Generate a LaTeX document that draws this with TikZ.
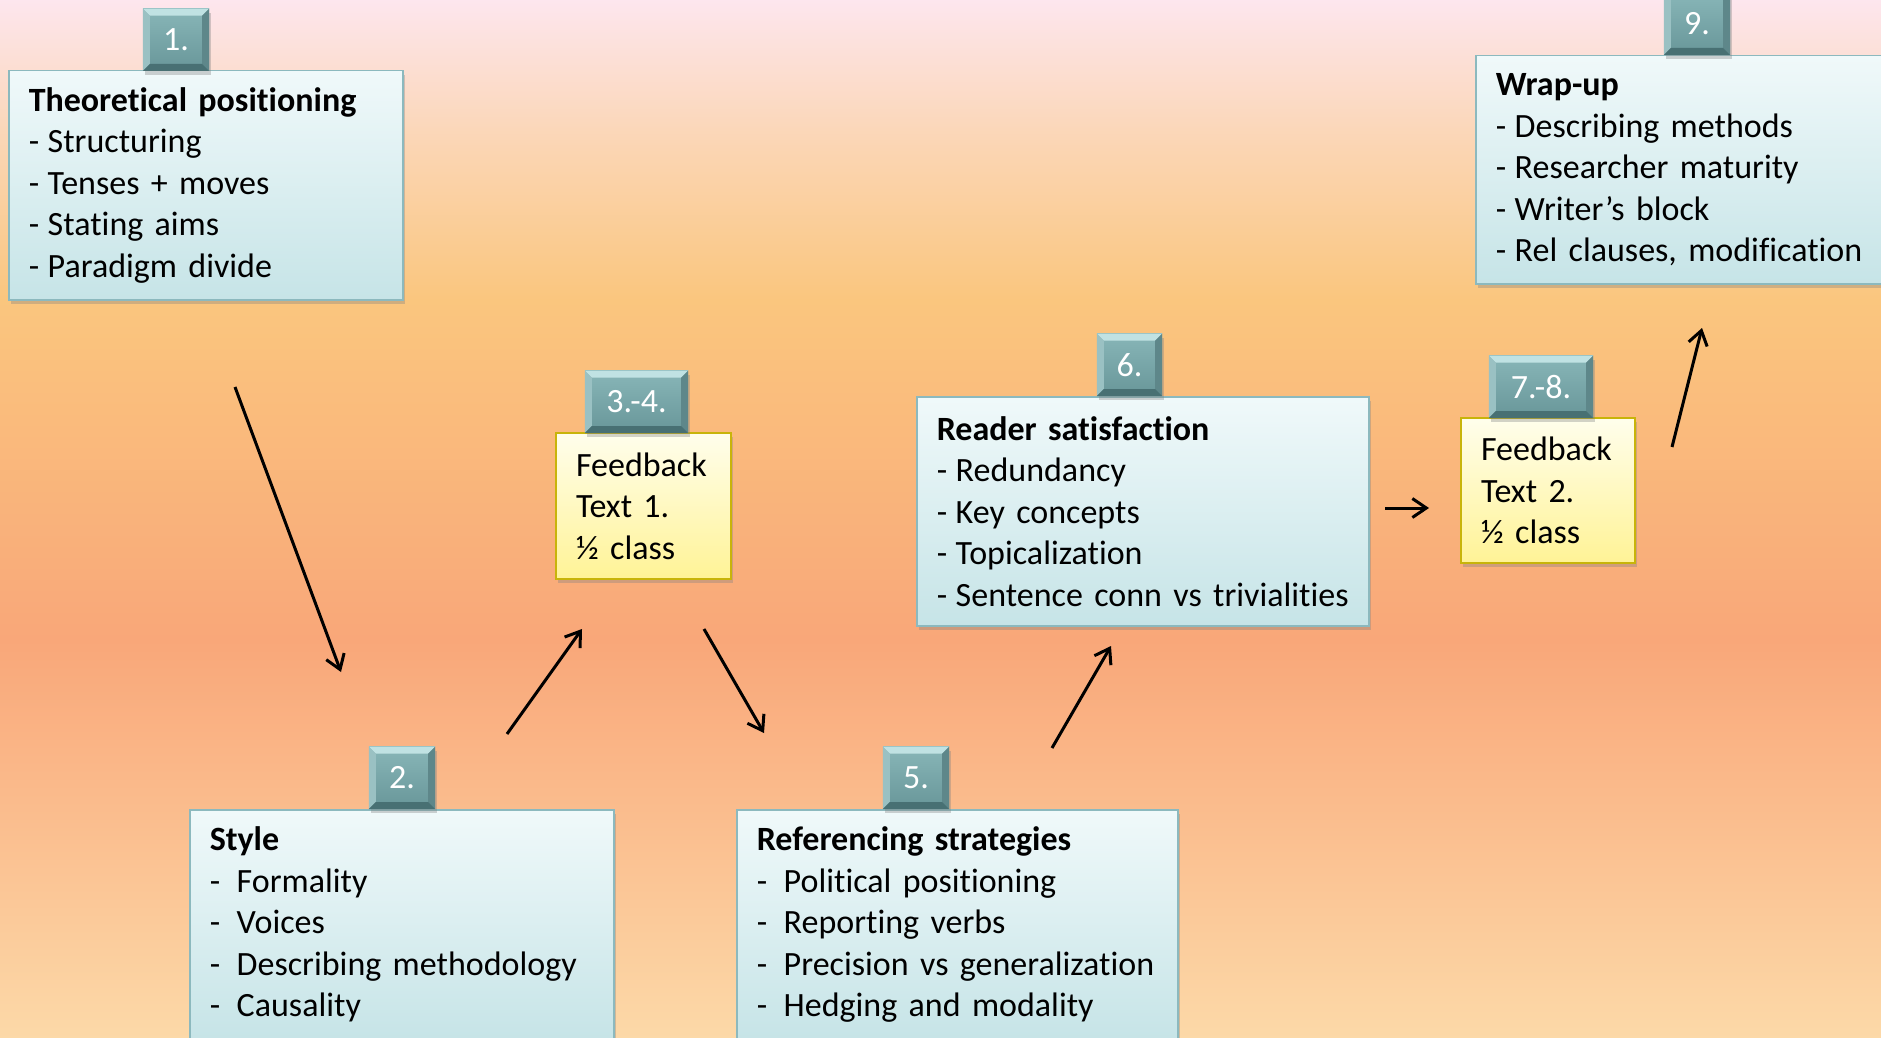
\documentclass[tikz,border=0pt]{standalone}
\usepackage{fontspec}
\setmainfont{Carlito}[Ligatures={NoCommon}]
\usetikzlibrary{arrows.meta,shadows,calc}

\definecolor{bgPink}{RGB}{253,230,238}
\definecolor{bgPeach}{RGB}{251,215,185}
\definecolor{bgOrange}{RGB}{250,198,126}
\definecolor{bgSalmon}{RGB}{249,167,121}
\definecolor{bgBottom}{RGB}{252,217,168}
\definecolor{boxTop}{RGB}{240,249,250}
\definecolor{boxBot}{RGB}{198,228,231}
\definecolor{boxLine}{RGB}{140,185,190}
\definecolor{ylTop}{RGB}{255,254,236}
\definecolor{ylBot}{RGB}{255,243,150}
\definecolor{ylLine}{RGB}{200,180,10}
\definecolor{tabTop}{RGB}{136,182,184}
\definecolor{tabBot}{RGB}{104,150,153}
\definecolor{tabHi}{RGB}{192,226,227}
\definecolor{tabDark}{RGB}{72,112,115}

\newcommand{\di}{\makebox[19pt][l]{-}}
\newcommand{\dii}{\makebox[27pt][l]{-}}

\tikzset{
  txt/.style={font=\fontsize{34}{41.5}\selectfont},
  shad/.style={drop shadow={shadow xshift=2pt, shadow yshift=-4pt, opacity=0.35}},
  topicbox/.style={draw=boxLine, line width=1.5pt, top color=boxTop, bottom color=boxBot,
    anchor=north west, align=left, inner xsep=20pt, inner ysep=0pt, txt, shad},
  fbbox/.style={draw=ylLine, line width=2pt, top color=ylTop, bottom color=ylBot,
    anchor=north west, align=left, inner xsep=20pt, inner ysep=0pt, txt, shad,
    text width=135pt, minimum height=146pt},
  tabbox/.style={anchor=south, minimum height=62pt, inner xsep=0pt, inner ysep=0pt,
    top color=tabTop, bottom color=tabBot, text=white, txt, shad},
  arr/.style={line width=3pt, -{Straight Barb[length=14pt,width=19pt]}},
}

\newcommand{\numtab}[5]{%
  \node[tabbox, minimum width=#4pt] (#1) at (#2,#3) {};
  \fill[tabHi] (#1.north west) -- (#1.north east) -- ($(#1.north east)+(-7,7)$) -- ($(#1.north west)+(7,7)$) -- cycle;
  \fill[tabTop!85!white] (#1.north west) -- ($(#1.north west)+(7,7)$) -- ($(#1.south west)+(7,-7)$) -- (#1.south west) -- cycle;
  \fill[tabBot!90!black] (#1.north east) -- ($(#1.north east)+(-7,7)$) -- ($(#1.south east)+(-7,-7)$) -- (#1.south east) -- cycle;
  \fill[tabDark] (#1.south west) -- (#1.south east) -- ($(#1.south east)+(-7,-7)$) -- ($(#1.south west)+(7,-7)$) -- cycle;
  \node[txt, text=white] (#1t) at (#1.center) {#5};
}

\begin{document}
\begin{tikzpicture}[x=1pt,y=-1pt]
\useasboundingbox (0,0) rectangle (1881,1038);
\clip (0,0) rectangle (1881,1038);

% background
\fill[top color=bgPink, bottom color=bgPeach] (0,-1) rectangle (1881,130);
\fill[top color=bgPeach, bottom color=bgOrange] (0,129) rectangle (1881,300);
\fill[top color=bgOrange, bottom color=bgSalmon] (0,299) rectangle (1881,640);
\fill[top color=bgSalmon, bottom color=bgBottom] (0,639) rectangle (1881,1039);

% topic boxes
\node[topicbox, text width=354pt, minimum height=229pt] (b1) at (8,70)
  {\textbf{Theoretical positioning}\\\di Structuring\\\di Tenses + moves\\\di Stating aims\\\di Paradigm divide};
\node[topicbox, text width=384pt, minimum height=230pt] (b2) at (189,809)
  {\textbf{Style}\\\dii Formality\\\dii Voices\\\dii Describing methodology\\\dii Causality};
\node[topicbox, text width=401pt, minimum height=230pt] (b5) at (736,809)
  {\textbf{Referencing strategies}\\\dii Political positioning\\\dii Reporting verbs\\\dii Precision vs generalization\\\dii Hedging and modality};
\node[topicbox, text width=412pt, minimum height=229pt] (b6) at (916,396)
  {\textbf{Reader satisfaction}\\\di Redundancy\\\di Key concepts\\\di Topicalization\\\di Sentence conn vs trivialities};
\node[topicbox, text width=400pt, minimum height=228pt] (b9) at (1475,55)
  {\textbf{Wrap-up}\\\di Describing methods\\\di Researcher maturity\\\di Writer’s block\\\di Rel clauses, modification};

% feedback boxes
\node[fbbox] (f34) at (555,432) {Feedback\\Text 1.\\½ class};
\node[fbbox, text width=134pt, minimum height=145pt] (f78) at (1460,417) {Feedback\\Text 2.\\½ class};

% number tabs
\numtab{t1}{176}{71}{66}{1.}
\numtab{t34}{636.5}{433}{103}{3.-4.}
\numtab{t2}{402}{809}{66}{2.}
\numtab{t5}{916}{809}{66}{5.}
\numtab{t6}{1129.5}{396}{65}{6.}
\numtab{t78}{1541}{418}{104}{7.-8.}
\numtab{t9}{1697}{55}{66}{9.}

% arrows
\coordinate (a1s) at (235,387); \coordinate (a1e) at (341,672);
\coordinate (a2s) at (507,734); \coordinate (a2e) at (582,629);
\coordinate (a3s) at (704,629); \coordinate (a3e) at (764,733);
\coordinate (a4s) at (1052,748); \coordinate (a4e) at (1111,646);
\coordinate (a5s) at (1385,508); \coordinate (a5e) at (1429,508);
\coordinate (a6s) at (1672,447); \coordinate (a6e) at (1702,328);
\draw[arr] (a1s) -- (a1e);
\draw[arr] (a2s) -- (a2e);
\draw[arr] (a3s) -- (a3e);
\draw[arr] (a4s) -- (a4e);
\draw[arr] (a5s) -- (a5e);
\draw[arr] (a6s) -- (a6e);
\end{tikzpicture}
\end{document}
